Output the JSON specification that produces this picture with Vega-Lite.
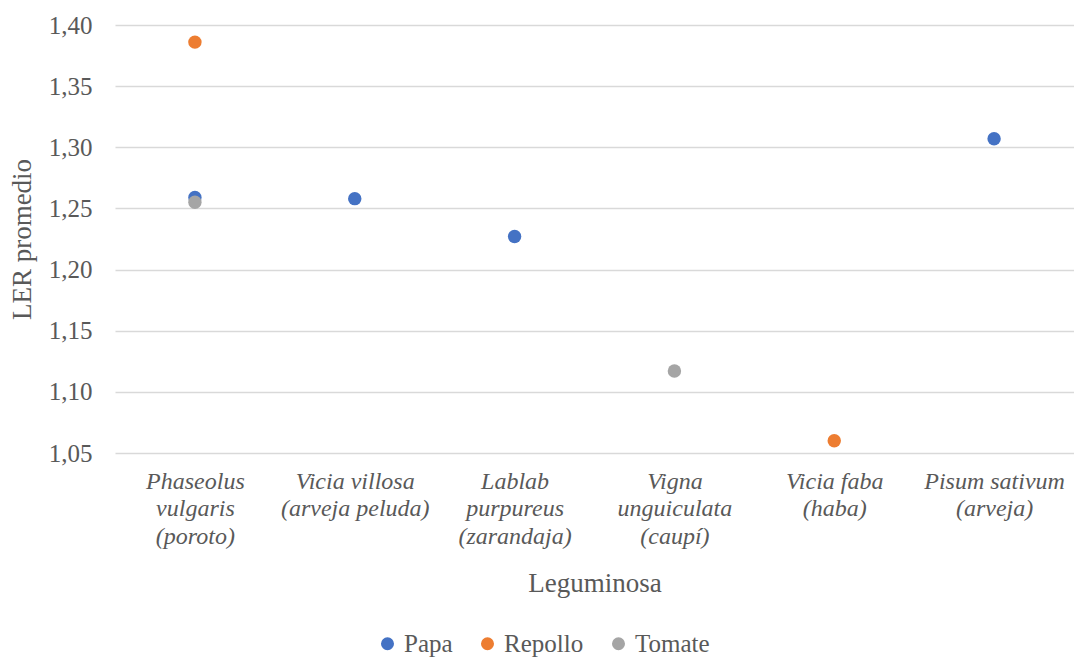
{
  "$schema": "https://vega.github.io/schema/vega-lite/v6.json",
  "autosize": {"type": "none"},
  "width": 959,
  "height": 428,
  "padding": {"left": 115, "top": 25, "right": 0, "bottom": 206},
  "background": "white",
  "config": {
    "view": {"stroke": null},
    "axis": {"labelColor": "#595959", "titleColor": "#595959", "titleFontWeight": "normal", "labelFontWeight": "normal"},
    "legend": {"labelColor": "#595959", "labelFontWeight": "normal"}
  },
  "data": {
    "values": [
      {"leguminosa": "Phaseolus\nvulgaris\n(poroto)", "cultivo": "Papa", "ler": 1.259},
      {"leguminosa": "Vicia villosa\n(arveja peluda)", "cultivo": "Papa", "ler": 1.258},
      {"leguminosa": "Lablab\npurpureus\n(zarandaja)", "cultivo": "Papa", "ler": 1.227},
      {"leguminosa": "Pisum sativum\n(arveja)", "cultivo": "Papa", "ler": 1.307},
      {"leguminosa": "Phaseolus\nvulgaris\n(poroto)", "cultivo": "Repollo", "ler": 1.386},
      {"leguminosa": "Vicia faba\n(haba)", "cultivo": "Repollo", "ler": 1.06},
      {"leguminosa": "Phaseolus\nvulgaris\n(poroto)", "cultivo": "Tomate", "ler": 1.255},
      {"leguminosa": "Vigna\nunguiculata\n(caupí)", "cultivo": "Tomate", "ler": 1.117}
    ]
  },
  "mark": {"type": "point", "filled": true, "shape": "circle", "size": 180, "opacity": 1},
  "encoding": {
    "x": {
      "field": "leguminosa",
      "type": "nominal",
      "sort": ["Phaseolus\nvulgaris\n(poroto)", "Vicia villosa\n(arveja peluda)", "Lablab\npurpureus\n(zarandaja)", "Vigna\nunguiculata\n(caupí)", "Vicia faba\n(haba)", "Pisum sativum\n(arveja)"],
      "scale": {"paddingInner": 0, "paddingOuter": 0.5},
      "axis": {
        "title": "Leguminosa",
        "titleFont": "Liberation Serif",
        "titleFontSize": 27,
        "titlePadding": 22,
        "labelFont": "Liberation Serif",
        "labelAngle": 0,
        "labelFontSize": 24,
        "labelFontStyle": "italic",
        "labelLineHeight": 27.5,
        "labelPadding": 16,
        "labelExpr": "split(datum.label, '\\n')",
        "ticks": false,
        "domain": false,
        "grid": false,
        "labelBaseline": "top"
      }
    },
    "y": {
      "field": "ler",
      "type": "quantitative",
      "scale": {"domain": [1.05, 1.4], "zero": false, "nice": false},
      "axis": {
        "title": "LER promedio",
        "titleFont": "Liberation Serif",
        "titleFontSize": 27,
        "titlePadding": 12,
        "labelFont": "Liberation Serif",
        "labelFontSize": 25,
        "labelPadding": 23,
        "values": [1.05, 1.1, 1.15, 1.2, 1.25, 1.3, 1.35, 1.4],
        "labelExpr": "replace(format(datum.value, '.2f'), '.', ',')",
        "ticks": false,
        "domain": false,
        "grid": true,
        "gridColor": "#d9d9d9",
        "gridWidth": 1.5
      }
    },
    "color": {
      "field": "cultivo",
      "type": "nominal",
      "scale": {"domain": ["Papa", "Repollo", "Tomate"], "range": ["#4472C4", "#ED7D31", "#A5A5A5"]},
      "legend": {
        "title": null,
        "orient": "none",
        "direction": "horizontal",
        "legendX": 260,
        "legendY": 606,
        "labelFont": "Liberation Serif",
        "labelFontSize": 25,
        "symbolType": "circle",
        "symbolSize": 170,
        "symbolOpacity": 1,
        "labelOffset": 4,
        "columnPadding": 22
      }
    }
  }
}
